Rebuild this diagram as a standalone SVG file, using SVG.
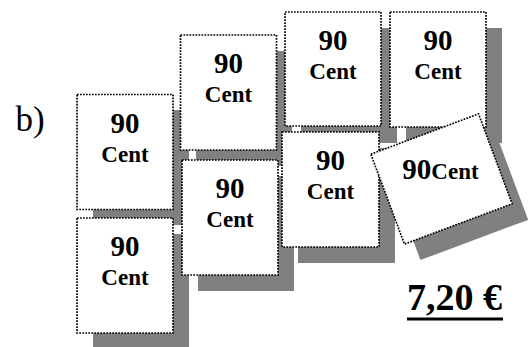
<svg xmlns="http://www.w3.org/2000/svg" width="528" height="347" viewBox="0 0 528 347">
<defs>
<style>
.bg{fill:#ffffff}
.sh{fill:#808080}
.st{fill:#ffffff;stroke:#000000;stroke-width:1.7;stroke-dasharray:1.7 1.3}
.n{font-family:"Liberation Serif","Times New Roman",serif;font-weight:bold;font-size:29px;fill:#000;text-anchor:middle}
.c{font-family:"Liberation Serif","Times New Roman",serif;font-weight:bold;font-size:23px;fill:#000;text-anchor:middle}
.lbl{font-family:"Liberation Serif","Times New Roman",serif;font-size:35px;fill:#000}
.tot{font-family:"Liberation Serif","Times New Roman",serif;font-weight:bold;font-size:38px;fill:#000}
</style>
</defs>
<rect class="bg" x="0" y="0" width="528" height="347"/>
<text class="lbl" x="15.5" y="131">b)</text>
<g id="shadows">
<rect class="sh" x="93" y="110" width="96" height="115"/>
<rect class="sh" x="93" y="234" width="96" height="115"/>
<rect class="sh" x="196" y="51" width="96" height="115"/>
<rect class="sh" x="198" y="176" width="96" height="115"/>
<rect class="sh" x="301" y="28" width="96" height="115"/>
<rect class="sh" x="298" y="148" width="97" height="115"/>
<rect class="sh" x="406" y="28" width="96" height="115"/>
<rect class="sh" x="-57.5" y="-48" width="115" height="96" transform="translate(457.5 195) rotate(-20.5)"/>
</g>
<g id="stampA">
<rect class="st" x="77" y="94.5" width="96" height="115"/>
<text class="n" x="125" y="132.5">90</text>
<text class="c" x="125" y="161.5">Cent</text>
</g>
<g id="stampB">
<rect class="st" x="77" y="218" width="96" height="115"/>
<text class="n" x="125" y="256">90</text>
<text class="c" x="125" y="285">Cent</text>
</g>
<g id="stampC">
<rect class="st" x="180.5" y="35" width="96" height="115"/>
<text class="n" x="228.5" y="73">90</text>
<text class="c" x="228.5" y="102">Cent</text>
</g>
<g id="stampD">
<rect class="st" x="182" y="160" width="96" height="115"/>
<text class="n" x="230" y="198">90</text>
<text class="c" x="230" y="227">Cent</text>
</g>
<g id="stampE">
<rect class="st" x="285" y="12" width="96" height="114"/>
<text class="n" x="333" y="50">90</text>
<text class="c" x="333" y="79">Cent</text>
</g>
<g id="stampF">
<rect class="st" x="282" y="132" width="97" height="115"/>
<text class="n" x="330.5" y="170">90</text>
<text class="c" x="330.5" y="199">Cent</text>
</g>
<g id="stampG">
<rect class="st" x="390" y="12" width="96" height="115"/>
<text class="n" x="438" y="50">90</text>
<text class="c" x="438" y="79">Cent</text>
</g>
<g id="stampH">
<rect class="st" x="-57.5" y="-48" width="115" height="96" transform="translate(441.5 179) rotate(-20.5)"/>
<text class="n" x="440.5" y="179"><tspan>90</tspan><tspan class="c" style="font-size:23px">Cent</tspan></text>
</g>
<g id="total">
<text class="tot" x="407" y="310">7,20 €</text>
<rect x="407" y="317.5" width="96" height="3" fill="#000"/>
</g>
</svg>
